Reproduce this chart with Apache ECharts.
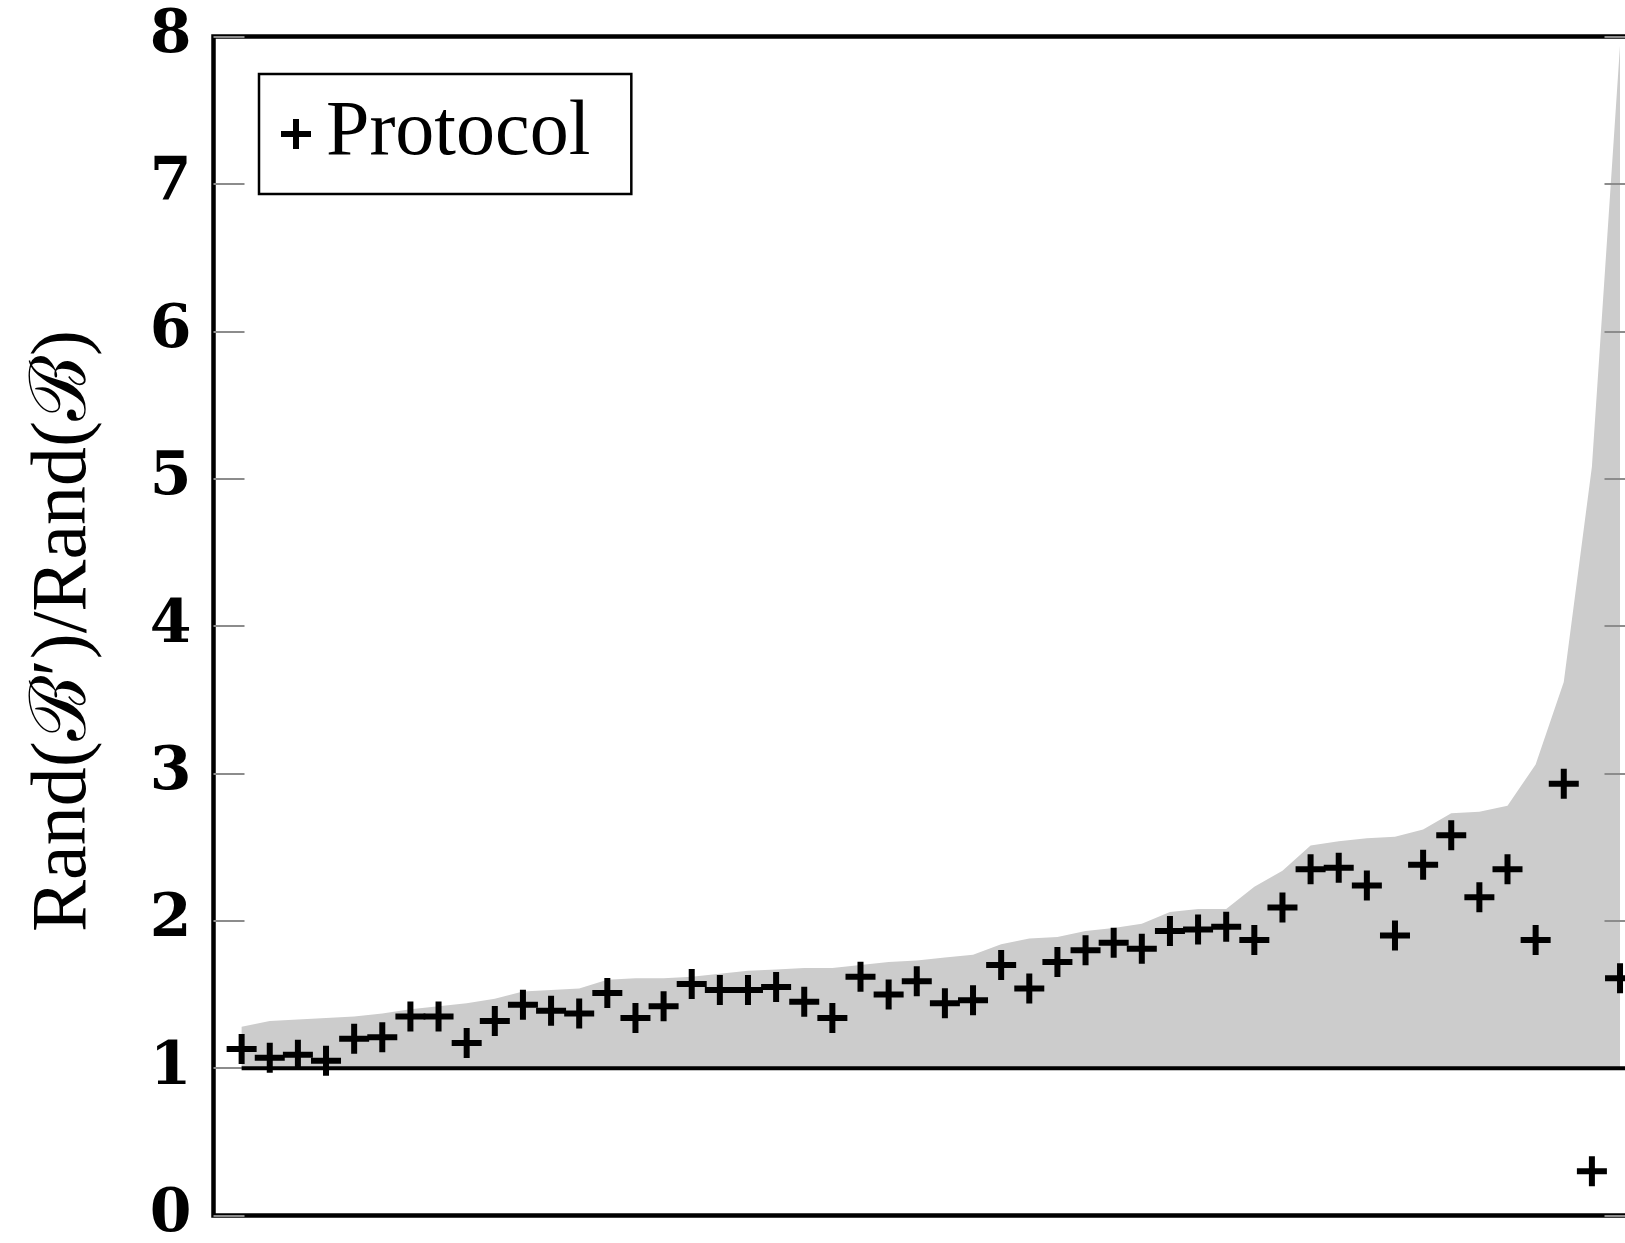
<!DOCTYPE html>
<html>
<head>
<meta charset="utf-8">
<script src="https://cdn.jsdelivr.net/npm/echarts@6/dist/echarts.min.js"></script>
<style>
html,body{margin:0;padding:0;background:#fff;}
#chart{width:1625px;height:1243px;}
</style>
</head>
<body>
<div id="chart"></div>
<script>
// ---- data ----
const instanceIndex = [1,2,3,4,5,6,7,8,9,10,11,12,13,14,15,16,17,18,19,20,
  21,22,23,24,25,26,27,28,29,30,31,32,33,34,35,36,37,38,39,40,
  41,42,43,44,45,46,47,48,49,50];

const protocolRatio = [1.13,1.07,1.09,1.05,1.20,1.21,1.35,1.35,1.17,1.32,
  1.43,1.39,1.37,1.51,1.34,1.42,1.57,1.53,1.53,1.55,
  1.45,1.34,1.62,1.50,1.59,1.44,1.46,1.70,1.54,1.72,
  1.80,1.85,1.81,1.93,1.94,1.96,1.87,2.09,2.35,2.36,
  2.24,1.90,2.38,2.58,2.16,2.35,1.87,2.93,0.30,1.61];

const upperBound = [1.28,1.32,1.33,1.34,1.35,1.37,1.40,1.42,1.44,1.47,
  1.52,1.53,1.54,1.60,1.61,1.61,1.62,1.64,1.66,1.67,
  1.68,1.68,1.70,1.72,1.73,1.75,1.77,1.84,1.88,1.89,
  1.93,1.95,1.98,2.06,2.08,2.08,2.23,2.34,2.51,2.54,
  2.56,2.57,2.62,2.73,2.74,2.78,3.06,3.62,5.08,7.94];

const baseline = 1;
const yTickLabels = ['0','1','2','3','4','5','6','7','8'];
const seriesName = 'Protocol';
const yTitle = 'Rand(\u212C\u2032)/Rand(\u212C)';
const xMin = 0, xMax = 50.55;

// ---- chart ----
const plusPath = 'path://M12,0H18V12H30V18H18V30H12V18H0V12H12Z';
const tickStyle = {color:'#8c8c8c', width:2};

const chart = echarts.init(document.getElementById('chart'), null, {renderer:'canvas'});
chart.setOption({
  animation:false,
  backgroundColor:'#ffffff',
  grid:{left:213.5, right:-10.5, top:36.5, bottom:27.5, show:true, containLabel:false,
        outerBoundsMode:'none',
        borderColor:'#000', borderWidth:4.5, backgroundColor:'transparent'},
  xAxis:{type:'value', min:xMin, max:xMax,
         axisLine:{show:false}, axisTick:{show:false}, axisLabel:{show:false}, splitLine:{show:false}},
  yAxis:[{
    type:'value', min:0, max:8, interval:1, z:3,
    axisLine:{show:false},
    axisTick:{show:true, inside:true, length:31, lineStyle:tickStyle},
    axisLabel:{margin:22, fontFamily:'DejaVu Serif', fontWeight:'bold', fontSize:60, color:'#000',
               formatter:function(v){return yTickLabels[Math.round(v)];}},
    splitLine:{show:false},
    name:yTitle, nameLocation:'middle', nameGap:110, nameRotate:90,
    nameTextStyle:{fontFamily:'Liberation Serif', fontSize:78, color:'#000', padding:[0,10,0,0]}
  },{
    type:'value', position:'right', min:0, max:8, interval:1, z:3,
    axisLine:{show:false},
    axisTick:{show:true, inside:true, length:31, lineStyle:tickStyle},
    axisLabel:{show:false}, splitLine:{show:false}
  }],
  legend:{
    show:true, left:259, top:74, orient:'horizontal',
    data:[{name:seriesName, icon:plusPath}],
    itemWidth:30, itemHeight:30,
    padding:[21,41,21,22],
    borderColor:'#000', borderWidth:2.5, backgroundColor:'#fff',
    selectedMode:false,
    itemStyle:{color:'#000', opacity:1},
    textStyle:{fontFamily:'Liberation Serif', fontSize:78, color:'#000', padding:[0,0,0,10]}
  },
  series:[
    {
      type:'line', name:'upper', silent:true,
      data:instanceIndex.map(function(x,i){return [x, upperBound[i]];}),
      symbol:'none', lineStyle:{opacity:0},
      areaStyle:{color:'#cccccc', opacity:1, origin:baseline}, z:1
    },
    {
      type:'line', name:'ref', silent:true,
      data:[[instanceIndex[0], baseline],[xMax, baseline]],
      symbol:'none', lineStyle:{color:'#000', width:4}, z:4
    },
    {
      type:'scatter', name:seriesName,
      data:instanceIndex.map(function(x,i){return [x, protocolRatio[i]];}),
      symbol:plusPath, symbolSize:30,
      itemStyle:{color:'#000', opacity:1}, z:5
    }
  ]
});
</script>
</body>
</html>
